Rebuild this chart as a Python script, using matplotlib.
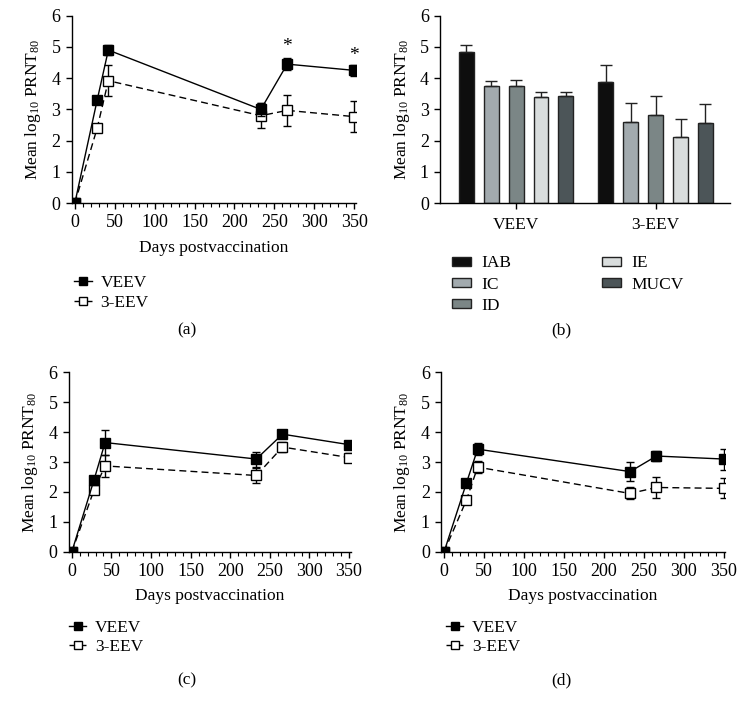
import numpy as np
import matplotlib
matplotlib.use("Agg")
import matplotlib.pyplot as plt

plt.rcParams['font.family'] = ['Liberation Serif', 'DejaVu Serif']
plt.rcParams['mathtext.fontset'] = 'custom'
plt.rcParams['mathtext.rm'] = 'Liberation Serif'
plt.rcParams['mathtext.it'] = 'Liberation Serif:italic'
plt.rcParams['font.size'] = 12

# days postvaccination
days = [0, 28, 42, 233, 266, 350]

# panel (a)
a_veev = [0, 3.3, 4.9, 3.0, 4.45, 4.25]
a_veev_err = [0, 0.05, 0.15, 0.2, 0.2, 0.18]
a_eev = [0, 2.4, 3.92, 2.8, 2.97, 2.77]
a_eev_err = [0, 0.05, 0.5, 0.4, 0.5, 0.5]
a_stars = [266, 350]
a_star_y = [5.0, 4.72]

# panel (b)
groups = ['VEEV', '3-EEV']
subtypes = ['IAB', 'IC', 'ID', 'IE', 'MUCV']
sub_colors = ['#0e0e0e', '#a2aaae', '#7b8686', '#d9dddd', '#4c5558']
b_veev = [4.85, 3.75, 3.75, 3.4, 3.42]
b_veev_err = [0.22, 0.17, 0.2, 0.17, 0.14]
b_eev = [3.87, 2.6, 2.82, 2.12, 2.57]
b_eev_err = [0.55, 0.6, 0.6, 0.57, 0.62]

# panel (c)
c_veev = [0, 2.4, 3.65, 3.1, 3.93, 3.58]
c_veev_err = [0, 0.05, 0.42, 0.25, 0.08, 0.06]
c_eev = [0, 2.06, 2.87, 2.55, 3.5, 3.15]
c_eev_err = [0, 0.1, 0.38, 0.25, 0.18, 0.15]

# panel (d)
d_veev = [0, 2.3, 3.43, 2.68, 3.2, 3.1]
d_veev_err = [0, 0.05, 0.2, 0.32, 0.17, 0.35]
d_eev = [0, 1.73, 2.83, 1.95, 2.15, 2.12]
d_eev_err = [0, 0.12, 0.2, 0.2, 0.35, 0.33]

ylabel = r'Mean log$_{10}$ PRNT$_{80}$'

fig = plt.figure(figsize=(7.46, 7.13), dpi=100)


def style_axes(ax):
    for s in ['top', 'right']:
        ax.spines[s].set_visible(False)
    for s in ['left', 'bottom']:
        ax.spines[s].set_linewidth(1.0)
    ax.tick_params(direction='out', length=4, width=1.0, labelsize=13, pad=4)
    ax.set_ylim(0, 6)
    ax.set_yticks(range(7))
    ax.set_ylabel(ylabel, fontsize=12.5, labelpad=6)


def line_panel(rect, veev, veev_err, eev, eev_err, leg_xy):
    ax = fig.add_axes(rect)
    style_axes(ax)
    ax.errorbar(days, eev, yerr=eev_err, color='black', lw=1.0, ls=(0, (5, 3)),
                marker='s', ms=6.5, mfc='white', mec='black', mew=1.0,
                capsize=3, elinewidth=1.0, capthick=1.0, label='3-EEV', zorder=3)
    ax.errorbar(days, veev, yerr=veev_err, color='black', lw=1.0,
                marker='s', ms=6.5, mfc='black', mec='black',
                capsize=3, elinewidth=1.0, capthick=1.0, label='VEEV', zorder=4)
    ax.set_xlim(-4, 352)
    ax.set_xticks(range(0, 351, 50))
    ax.set_xticks(range(0, 351, 10), minor=True)
    ax.tick_params(which='minor', direction='out', length=3, width=0.8)
    ax.spines['left'].set_bounds(0, 6)
    ax.set_xlabel('Days postvaccination', fontsize=12.5, labelpad=6)
    h, l = ax.get_legend_handles_labels()
    hs = [hh[0] for hh in h]
    ax.legend(hs[::-1], l[::-1], loc='upper left', bbox_to_anchor=leg_xy,
              bbox_transform=fig.transFigure, frameon=False, fontsize=12.5,
              handlelength=1.0, handletextpad=0.5, labelspacing=0.2,
              borderpad=0, markerscale=0.8)
    return ax


ax_a = line_panel([0.096, 0.715, 0.381, 0.263], a_veev, a_veev_err,
                  a_eev, a_eev_err, (0.088, 0.626))
for x, y in zip(a_stars, a_star_y):
    ax_a.text(x, y, '*', ha='center', va='center', fontsize=14)

line_panel([0.092, 0.226, 0.378, 0.252], c_veev, c_veev_err,
           c_eev, c_eev_err, (0.081, 0.143))
line_panel([0.591, 0.226, 0.381, 0.252], d_veev, d_veev_err,
           d_eev, d_eev_err, (0.586, 0.143))

# panel (b) bars
ax_b = fig.add_axes([0.59, 0.715, 0.389, 0.263])
style_axes(ax_b)
centers = np.array([0.0, 5.6])
offsets = np.arange(len(subtypes)) - 2
for i, name in enumerate(subtypes):
    vals = [b_veev[i], b_eev[i]]
    errs = [b_veev_err[i], b_eev_err[i]]
    ax_b.bar(centers + offsets[i], vals, width=0.6, color=sub_colors[i],
             edgecolor='#222222', linewidth=1.0, label=name,
             yerr=[[0, 0], errs], capsize=4,
             error_kw=dict(elinewidth=1.0, capthick=1.0, ecolor='#222222'))
ax_b.set_xlim(-3.05, 8.6)
ax_b.set_xticks(centers)
ax_b.set_xticklabels(groups, fontsize=12.5)
ax_b.tick_params(axis='x', pad=6)
ax_b.legend(loc='upper left', bbox_to_anchor=(0.594, 0.654),
            bbox_transform=fig.transFigure, frameon=False, fontsize=12.5,
            ncol=2, columnspacing=5.2, handlelength=1.1, handleheight=0.45,
            handletextpad=0.6, labelspacing=0.3, borderpad=0)

# captions
for x, y, t in [(0.25, 0.537, '(a)'), (0.752, 0.537, '(b)'),
                (0.25, 0.046, '(c)'), (0.752, 0.046, '(d)')]:
    fig.text(x, y, t, ha='center', va='center', fontsize=12.5)

fig.savefig('out.png', dpi=100)
